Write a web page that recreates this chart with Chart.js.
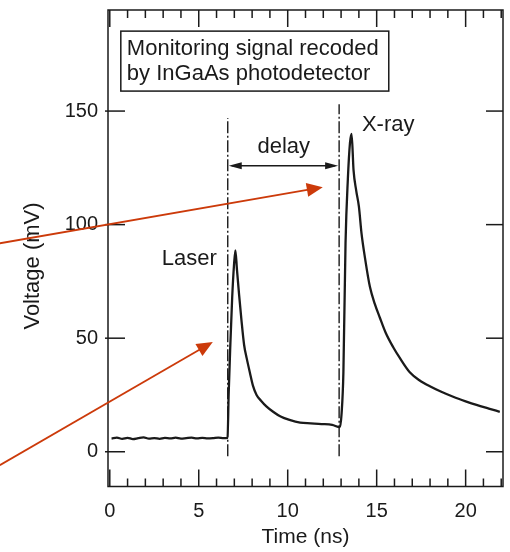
<!DOCTYPE html>
<html>
<head>
<meta charset="utf-8">
<script src="https://cdn.jsdelivr.net/npm/chart.js@4/dist/chart.umd.min.js"></script>
<style>
  html, body { margin: 0; padding: 0; background: #fff; }
  #wrap { width: 510px; height: 552px; }
</style>
</head>
<body>
<div id="wrap"><canvas id="signalChart" width="510" height="552"></canvas></div>
<script>
// photodetector trace
const timeNs = [0.1, 0.4, 0.7, 1.0, 1.3, 1.6, 1.9, 2.2, 2.5, 2.8, 3.1, 3.4, 3.7, 4.0, 4.3, 4.6, 4.9, 5.2, 5.5, 5.8, 6.1, 6.4, 6.62,
  6.68, 6.78, 6.88, 6.98, 7.06, 7.15, 7.27, 7.4, 7.55, 7.7, 7.87, 8.05, 8.25, 8.5, 8.8, 9.2, 9.6, 10.1, 10.7, 11.3, 11.9, 12.5, 12.93,
  13.03, 13.13, 13.25, 13.38, 13.5, 13.59, 13.7, 13.85, 14.0, 14.15, 14.35, 14.62, 14.9, 15.18, 15.5, 15.93, 16.3, 16.86, 17.4,
  17.99, 18.6, 19.3, 20.0, 20.61, 21.3, 21.92];
const voltageMv = [5.8, 6.2, 5.7, 6.1, 5.6, 6.0, 6.3, 5.8, 6.0, 5.7, 6.1, 5.9, 6.2, 5.8, 6.0, 6.2, 5.9, 6.1, 5.9, 6.0, 6.2, 6.0, 6.1,
  25, 48, 68, 82, 88.7, 80, 69, 58, 47, 41, 35, 29, 25, 22.5, 20, 17.5, 15.5, 14, 12.8, 12.5, 12.2, 11.8, 10.8,
  17, 35, 92, 120, 136, 140, 124, 115, 108, 96, 85, 72.6, 65, 59, 52.5, 46, 41.3, 35, 31.5,
  28.8, 26.5, 24.2, 22.2, 20.6, 19, 17.6];

const xTickValues = [0, 5, 10, 15, 20];
const yTickValues = [0, 50, 100, 150];
const boxLines = ['Monitoring signal recoded', 'by InGaAs photodetector'];
const laserMark = 6.63;   // ns, dash-dot marker
const xrayMark = 12.89;

const ink = '#1a1a1a';
const red = '#cc3a0a';
const fam = '"Liberation Sans", Arial, Helvetica, sans-serif';

function seg(ctx, x1, y1, x2, y2) {
  ctx.beginPath(); ctx.moveTo(x1, y1); ctx.lineTo(x2, y2); ctx.stroke();
}
function head(ctx, fx, fy, tx, ty, len, half) {
  const ang = Math.atan2(ty - fy, tx - fx);
  ctx.beginPath();
  ctx.moveTo(tx, ty);
  ctx.lineTo(tx - len * Math.cos(ang) + half * Math.sin(ang), ty - len * Math.sin(ang) - half * Math.cos(ang));
  ctx.lineTo(tx - len * Math.cos(ang) - half * Math.sin(ang), ty - len * Math.sin(ang) + half * Math.cos(ang));
  ctx.closePath();
  ctx.fill();
}
function noPad(s) {
  s.paddingTop = 0; s.paddingBottom = 0; s.paddingLeft = 0; s.paddingRight = 0;
}

const frameAndNotes = {
  id: 'frameAndNotes',
  afterDraw(chart) {
    const {ctx, chartArea: a, scales: {x, y}} = chart;
    const px = v => x.getPixelForValue(v);
    const py = v => y.getPixelForValue(v);
    ctx.save();
    ctx.strokeStyle = ink;
    ctx.fillStyle = ink;

    // frame + inward ticks
    ctx.lineWidth = 1.5;
    ctx.strokeRect(a.left, a.top, a.right - a.left, a.bottom - a.top);
    for (let t = 0; t <= 22; t++) {
      const len = t % 5 === 0 ? 17 : 8;
      seg(ctx, px(t), a.bottom, px(t), a.bottom - len);
      seg(ctx, px(t), a.top, px(t), a.top + len);
    }
    yTickValues.forEach(v => {
      seg(ctx, a.left - 3, py(v), a.left + 17, py(v));
      seg(ctx, a.right - 17, py(v), a.right, py(v));
    });

    // dash-dot markers
    ctx.lineWidth = 1.4;
    ctx.setLineDash([12, 2.5, 2, 2.5]);
    seg(ctx, px(laserMark), py(-2), px(laserMark), py(147));
    seg(ctx, px(xrayMark), py(-2), px(xrayMark), py(153));
    ctx.setLineDash([]);

    // delay double arrow
    const dy = py(125.9);
    ctx.lineWidth = 1.6;
    seg(ctx, px(laserMark) + 4, dy, px(xrayMark) - 4, dy);
    head(ctx, px(xrayMark), dy, px(laserMark) + 1, dy, 13, 3.5);
    head(ctx, px(laserMark), dy, px(xrayMark) - 1, dy, 13, 3.5);

    // labels
    ctx.font = '22px ' + fam;
    ctx.textBaseline = 'alphabetic';
    ctx.textAlign = 'center';
    ctx.fillText('delay', px(9.78), py(131.4));
    ctx.textAlign = 'left';
    ctx.fillText('X-ray', px(14.17), py(141.2));
    ctx.textAlign = 'right';
    ctx.fillText('Laser', px(6.01), py(82.2));

    // legend-like box
    ctx.lineWidth = 1.5;
    ctx.strokeRect(px(0.62), py(185.2), px(15.68) - px(0.62), py(158.8) - py(185.2));
    ctx.textAlign = 'left';
    ctx.fillText(boxLines[0], px(0.96), py(174.7));
    ctx.fillText(boxLines[1], px(0.96), py(163.6));

    // y title
    ctx.save();
    ctx.translate(33, 266);
    ctx.rotate(-Math.PI / 2);
    ctx.textAlign = 'center';
    ctx.textBaseline = 'middle';
    ctx.font = '22px ' + fam;
    ctx.fillText('Voltage (mV)', 0, 0);
    ctx.restore();

    // red pointer arrows
    ctx.strokeStyle = red;
    ctx.fillStyle = red;
    ctx.lineWidth = 1.8;
    const arrows = [[-6.18, 91.8, 11.97, 116.5], [-6.18, -5.9, 5.79, 48.3]];
    arrows.forEach(([t1, v1, t2, v2]) => {
      const x1 = px(t1), y1 = py(v1), x2 = px(t2), y2 = py(v2);
      const ang = Math.atan2(y2 - y1, x2 - x1);
      seg(ctx, x1, y1, x2 - 10 * Math.cos(ang), y2 - 10 * Math.sin(ang));
      head(ctx, x1, y1, x2, y2, 16, 7);
    });
    ctx.restore();
  }
};

new Chart(document.getElementById('signalChart'), {
  type: 'line',
  data: {
    datasets: [{
      data: timeNs.map((t, i) => ({x: t, y: voltageMv[i]})),
      borderColor: ink,
      borderWidth: 2.3,
      pointRadius: 0,
      cubicInterpolationMode: 'monotone',
      fill: false
    }]
  },
  options: {
    responsive: false,
    animation: false,
    layout: {padding: {top: 10, right: 7, left: 0, bottom: 0}},
    plugins: {legend: {display: false}, tooltip: {enabled: false}},
    scales: {
      x: {
        type: 'linear',
        min: -0.1,
        max: 22.1,
        afterBuildTicks: s => { s.ticks = xTickValues.map(v => ({value: v})); },
        afterFit: s => { s.height = 65.5; noPad(s); },
        grid: {display: false, drawTicks: false},
        border: {display: false},
        ticks: {color: ink, font: {size: 20, family: fam}, padding: 13, maxRotation: 0},
        title: {display: true, text: 'Time (ns)', color: ink, font: {size: 21, family: fam}, padding: {top: 0, bottom: 2}}
      },
      y: {
        min: -15.3,
        max: 194.5,
        afterBuildTicks: s => { s.ticks = yTickValues.map(v => ({value: v})); },
        afterFit: s => { s.width = 108; noPad(s); },
        grid: {display: false, drawTicks: false},
        border: {display: false},
        ticks: {color: ink, font: {size: 20, family: fam}, padding: 10}
      }
    }
  },
  plugins: [frameAndNotes]
});
</script>
</body>
</html>
